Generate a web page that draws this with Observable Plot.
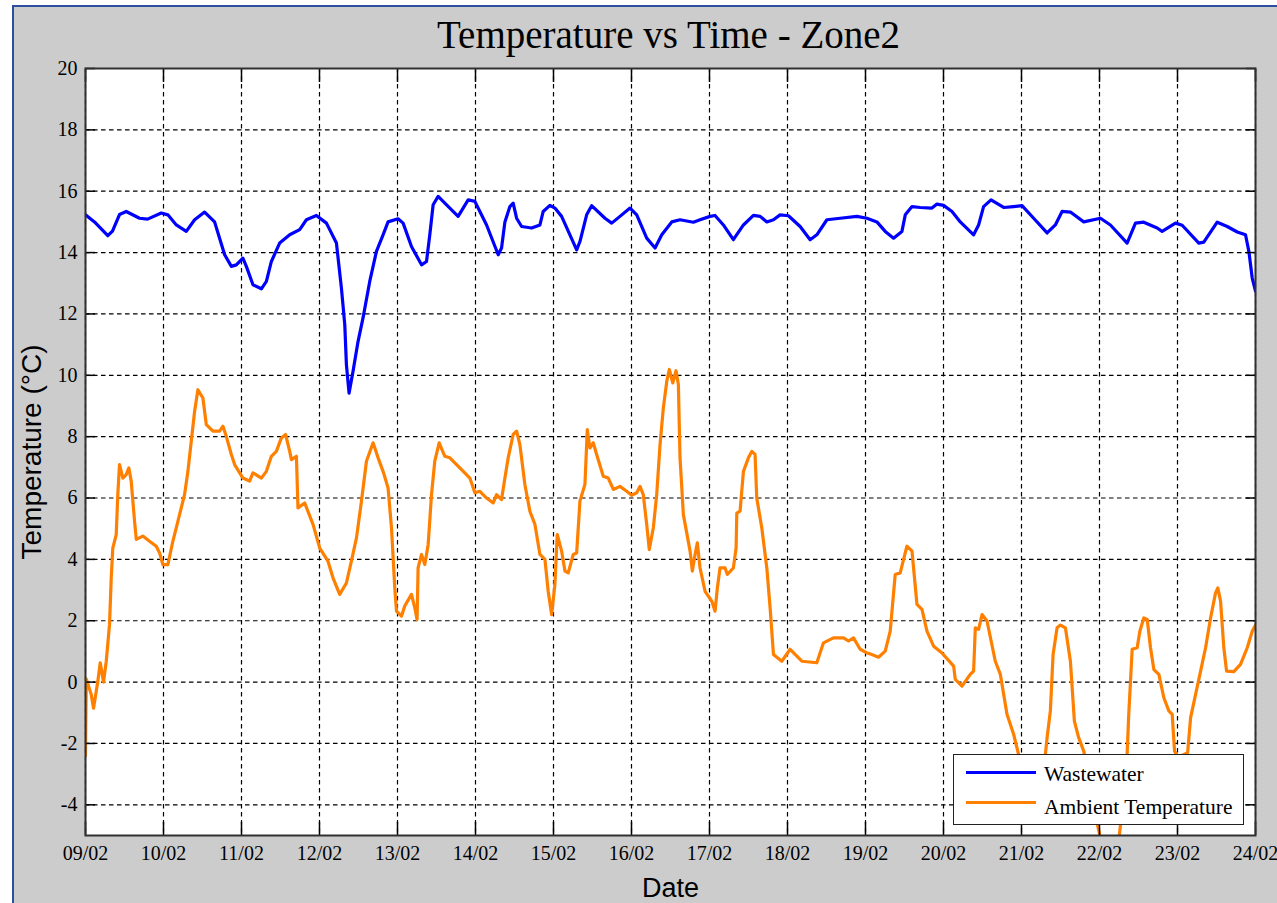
<!DOCTYPE html>
<html>
<head>
<meta charset="utf-8">
<script src="https://cdn.jsdelivr.net/npm/d3@7"></script>
<script src="https://cdn.jsdelivr.net/npm/@observablehq/plot@0.6"></script>
<style>
  body { margin: 0; background: #ffffff; }
  #wrap { position: relative; width: 1277px; height: 903px; overflow: hidden; }
  #panel { position: absolute; left: 12px; top: 5px; width: 1300px; height: 920px; background: #cccccc;
           border-left: 2px solid #2e4e9e; border-top: 2px solid #2e4e9e; }
  #chart { position: absolute; left: 0; top: 0; }
  #legend { position: absolute; left: 953px; top: 754px; width: 291px; height: 71px; box-sizing: border-box;
            background: #ffffff; border: 1.5px solid #222; font-family: "Liberation Serif", "Times New Roman", serif;
            font-size: 21.5px; line-height: 20px; color: #000; }
  #legend .sw { position: absolute; left: 12px; width: 70px; height: 3px; }
  #legend .lb { position: absolute; left: 90px; white-space: nowrap; }
</style>
</head>
<body>
<div id="wrap">
  <div id="panel"></div>
  <div id="chart"></div>
  <div id="legend"></div>
</div>
<script>
// ---- data (days since 09/02 00:00, °C) ----
const seriesNames = ["Wastewater", "Ambient Temperature"];
const seriesColors = ["#0000ff", "#ff8000"];

const wasteDays = [0,0.115,0.286,0.346,0.436,0.522,0.693,0.796,0.971,1.056,
1.164,1.292,1.399,1.527,1.655,1.719,1.784,1.870,1.934,2.018,
2.062,2.147,2.255,2.319,2.383,2.489,2.618,2.746,2.832,2.960,
3.089,3.217,3.281,3.324,3.345,3.379,3.430,3.494,3.558,3.644,
3.730,3.815,3.879,4.007,4.072,4.179,4.308,4.372,4.414,4.457,
4.521,4.671,4.777,4.906,4.992,5.056,5.142,5.291,5.334,5.377,
5.441,5.483,5.527,5.591,5.719,5.826,5.868,5.954,6.018,6.104,
6.297,6.339,6.425,6.489,6.660,6.746,6.852,6.981,7.067,7.195,
7.302,7.388,7.516,7.622,7.793,7.879,8.007,8.071,8.178,8.306,
8.435,8.563,8.649,8.735,8.820,8.905,9.012,9.162,9.290,9.376,
9.505,9.675,9.890,10.018,10.146,10.253,10.360,10.467,10.510,10.596,
10.702,10.852,10.916,11.001,11.109,11.215,11.386,11.450,11.514,11.609,
11.771,11.899,12.007,12.156,12.328,12.434,12.520,12.627,12.798,13.012,
13.140,13.354,13.461,13.567,13.739,13.803,13.974,14.060,14.273,14.337,
14.509,14.637,14.766,14.872,14.915,14.958,15.000];

const wasteTemp = [15.23,15.0,14.55,14.7,15.24,15.34,15.12,15.09,15.29,15.23,
14.9,14.69,15.07,15.32,15.0,14.47,13.93,13.55,13.6,13.82,
13.55,12.95,12.82,13.06,13.71,14.31,14.58,14.75,15.07,15.21,
14.96,14.31,12.84,11.65,10.35,9.42,10.13,11.1,11.87,13.06,
14.04,14.58,15.0,15.1,14.96,14.2,13.6,13.71,14.58,15.56,
15.83,15.45,15.18,15.72,15.67,15.34,14.9,13.93,14.15,15.0,
15.5,15.61,15.12,14.85,14.8,14.9,15.34,15.54,15.45,15.18,
14.09,14.36,15.23,15.53,15.12,14.96,15.18,15.45,15.23,14.47,
14.15,14.58,15.0,15.07,14.99,15.07,15.18,15.21,14.9,14.42,
14.9,15.21,15.18,15.0,15.07,15.23,15.2,14.85,14.42,14.58,
15.07,15.12,15.18,15.12,15.0,14.69,14.47,14.69,15.23,15.5,
15.47,15.45,15.58,15.54,15.34,15.0,14.58,14.9,15.5,15.72,
15.47,15.5,15.53,15.12,14.64,14.9,15.34,15.32,15.0,15.12,
14.9,14.31,14.96,14.99,14.8,14.69,14.96,14.89,14.31,14.34,
14.99,14.85,14.67,14.58,14.04,13.17,12.74];

const ambientDays = [0,0.01,0.073,0.103,0.158,0.189,0.231,0.266,0.308,0.330,
0.350,0.394,0.414,0.436,0.479,0.522,0.556,0.586,0.629,0.651,
0.735,0.821,0.907,0.950,0.992,1.056,1.120,1.206,1.270,1.313,
1.356,1.399,1.441,1.505,1.549,1.634,1.720,1.762,1.805,1.870,
1.912,2.018,2.104,2.147,2.255,2.319,2.383,2.447,2.511,2.566,
2.618,2.640,2.704,2.724,2.810,2.917,3.003,3.109,3.173,3.259,
3.345,3.409,3.474,3.538,3.602,3.687,3.751,3.815,3.879,3.923,
3.965,3.987,4.051,4.093,4.179,4.222,4.251,4.264,4.308,4.350,
4.393,4.436,4.478,4.534,4.607,4.671,4.799,4.928,4.992,5.056,
5.142,5.227,5.270,5.334,5.377,5.419,5.483,5.527,5.569,5.633,
5.697,5.762,5.826,5.890,5.932,5.976,6.018,6.048,6.104,6.147,
6.189,6.253,6.297,6.339,6.403,6.433,6.467,6.510,6.553,6.638,
6.702,6.767,6.852,6.938,7.002,7.067,7.109,7.151,7.195,7.228,
7.280,7.323,7.366,7.408,7.452,7.485,7.529,7.571,7.601,7.622,
7.665,7.751,7.780,7.815,7.844,7.879,7.943,8.029,8.071,8.101,
8.135,8.200,8.229,8.306,8.341,8.350,8.392,8.435,8.499,8.542,
8.584,8.606,8.670,8.735,8.777,8.820,8.927,9.034,9.184,9.376,
9.461,9.589,9.718,9.782,9.846,9.932,10.018,10.060,10.167,10.253,
10.317,10.381,10.445,10.531,10.596,10.660,10.724,10.788,10.873,10.981,
11.130,11.151,11.237,11.343,11.386,11.408,11.450,11.494,11.558,11.664,
11.729,11.814,11.899,11.963,12.05,12.14,12.24,12.306,12.328,12.370,
12.405,12.456,12.499,12.563,12.627,12.678,12.733,12.798,12.88,12.97,
13.04,13.14,13.24,13.29,13.354,13.375,13.419,13.483,13.517,13.568,
13.612,13.654,13.697,13.761,13.825,13.889,13.932,13.962,14.01,14.09,
14.13,14.168,14.232,14.296,14.360,14.424,14.488,14.517,14.552,14.594,
14.629,14.722,14.808,14.894,14.958,15.0];

const ambientTemp = [-2.4,0.1,-0.4,-0.85,0.03,0.63,0.0,0.68,1.88,3.4,
4.37,4.81,6.11,7.09,6.65,6.76,6.98,6.55,5.24,4.65,
4.76,4.59,4.43,4.21,3.83,3.83,4.59,5.46,6.11,6.87,
7.85,8.83,9.53,9.26,8.39,8.18,8.18,8.34,8.01,7.42,
7.09,6.65,6.55,6.82,6.65,6.87,7.36,7.52,7.96,8.07,
7.52,7.25,7.36,5.68,5.84,5.14,4.37,3.94,3.4,2.86,
3.23,3.94,4.70,5.90,7.2,7.80,7.31,6.87,6.33,5.03,
3.07,2.31,2.15,2.48,2.86,2.42,2.04,3.72,4.16,3.83,
4.48,6.11,7.2,7.80,7.36,7.31,6.98,6.65,6.17,6.22,
6.0,5.84,6.11,5.95,6.65,7.31,8.07,8.18,7.74,6.44,
5.57,5.14,4.16,4.0,2.96,2.2,3.18,4.81,4.27,3.62,
3.56,4.16,4.21,5.90,6.44,8.23,7.63,7.80,7.42,6.71,
6.65,6.28,6.38,6.22,6.09,6.17,6.38,6.11,5.14,4.32,
5.03,6.11,7.74,8.93,9.80,10.19,9.75,10.15,9.70,7.31,
5.46,4.27,3.62,4.16,4.54,3.72,2.96,2.64,2.31,3.07,
3.72,3.72,3.51,3.72,4.37,5.51,5.57,6.87,7.31,7.52,
7.42,6.0,5.03,3.72,2.42,0.9,0.68,1.07,0.68,0.63,
1.28,1.44,1.44,1.34,1.44,1.07,0.95,0.92,0.81,1.01,
1.66,3.51,3.56,4.43,4.27,2.53,2.37,1.66,1.17,0.95,
0.52,0.09,-0.13,0.25,0.36,1.77,1.72,2.2,1.99,0.68,
0.25,-1.05,-1.70,-2.36,-3.2,-3.6,-3.0,-2.36,-1.81,-0.94,
0.9,1.77,1.86,1.77,0.68,-1.27,-1.81,-2.25,-3.3,-4.6,
-5.4,-5.8,-5.3,-4.2,-2.36,-1.05,1.07,1.12,1.66,2.09,
2.04,1.12,0.41,0.25,-0.51,-0.94,-1.05,-2.25,-2.45,-2.35,
-2.3,-1.16,-0.4,0.36,1.12,2.09,2.91,3.07,2.64,1.12,
0.36,0.34,0.58,1.12,1.66,1.86];

const xTickLabels = ["09/02","10/02","11/02","12/02","13/02","14/02","15/02","16/02",
                     "17/02","18/02","19/02","20/02","21/02","22/02","23/02","24/02"];
const yTicks = [-4,-2,0,2,4,6,8,10,12,14,16,18,20];
const yDomain = [-5, 20];

const titleText = "Temperature vs Time - Zone2";
const xLabel = "Date";
const yLabel = "Temperature (°C)";

// ---- build ----
const base = Date.UTC(2015, 1, 9);
const toDate = d => new Date(base + d * 864e5);
const waste = wasteDays.map((d, i) => ({date: toDate(d), value: wasteTemp[i]}));
const ambient = ambientDays.map((d, i) => ({date: toDate(d), value: ambientTemp[i]}));
const xTicks = xTickLabels.map((_, i) => toDate(i));
const xFmt = d => xTickLabels[Math.round((d - base) / 864e5)];
const yFmt = d => String(d);

const serif = "'Liberation Serif', 'Times New Roman', serif";
const sans = "'Liberation Sans', Arial, sans-serif";
const gridStyle = {stroke: "#000", strokeOpacity: 1, strokeWidth: 1.2, strokeDasharray: "4.5,3.5"};

const chart = Plot.plot({
  width: 1277,
  height: 903,
  marginLeft: 85,
  marginRight: 22,
  marginTop: 68,
  marginBottom: 68,
  style: {background: "transparent", fontFamily: serif, fontSize: "20px", color: "#000", overflow: "visible"},
  x: {type: "utc", domain: [toDate(0), toDate(15)]},
  y: {domain: yDomain},
  marks: [
    Plot.frame({fill: "#ffffff"}),
    Plot.gridX(xTicks, gridStyle),
    Plot.gridY(yTicks, gridStyle),
    Plot.line(ambient, {x: "date", y: "value", stroke: seriesColors[1], strokeWidth: 3.2, clip: true}),
    Plot.line(waste, {x: "date", y: "value", stroke: seriesColors[0], strokeWidth: 3.2, clip: true}),
    Plot.axisX(xTicks, {anchor: "bottom", tickSize: -13, tickPadding: 23, tickFormat: xFmt, label: null,
                        fontSize: 20, fontFamily: serif, strokeWidth: 1.5}),
    Plot.axisX(xTicks, {anchor: "top", tickSize: -13, tickFormat: () => "", label: null, strokeWidth: 1.5}),
    Plot.axisY(yTicks, {anchor: "left", tickSize: -10, tickPadding: 18, tickFormat: yFmt, label: null,
                        fontSize: 20, fontFamily: serif, strokeWidth: 1.5}),
    Plot.axisY(yTicks, {anchor: "right", tickSize: -10, tickFormat: () => "", label: null, strokeWidth: 1.5}),
    Plot.frame({stroke: "#303030", strokeWidth: 2}),
    Plot.text([titleText], {frameAnchor: "top", dx: -2, dy: -21, lineAnchor: "bottom", fontSize: 39, fontFamily: serif, fill: "#000"}),
    Plot.text([xLabel], {frameAnchor: "bottom", dy: 61, lineAnchor: "bottom", fontSize: 27, fontFamily: sans, fill: "#000"}),
    Plot.text([yLabel], {frameAnchor: "left", dx: -53, rotate: -90, textAnchor: "middle", lineAnchor: "middle",
                         fontSize: 28, fontFamily: sans, fill: "#000"})
  ]
});
document.getElementById("chart").appendChild(chart);

// ---- legend ----
const legend = document.getElementById("legend");
seriesNames.forEach((name, i) => {
  const sw = document.createElement("div");
  sw.className = "sw";
  sw.style.top = (16 + i * 30) + "px";
  sw.style.background = seriesColors[i];
  legend.appendChild(sw);
  const lb = document.createElement("div");
  lb.className = "lb";
  lb.style.top = (9 + i * 33) + "px";
  lb.textContent = name;
  legend.appendChild(lb);
});
</script>
</body>
</html>
